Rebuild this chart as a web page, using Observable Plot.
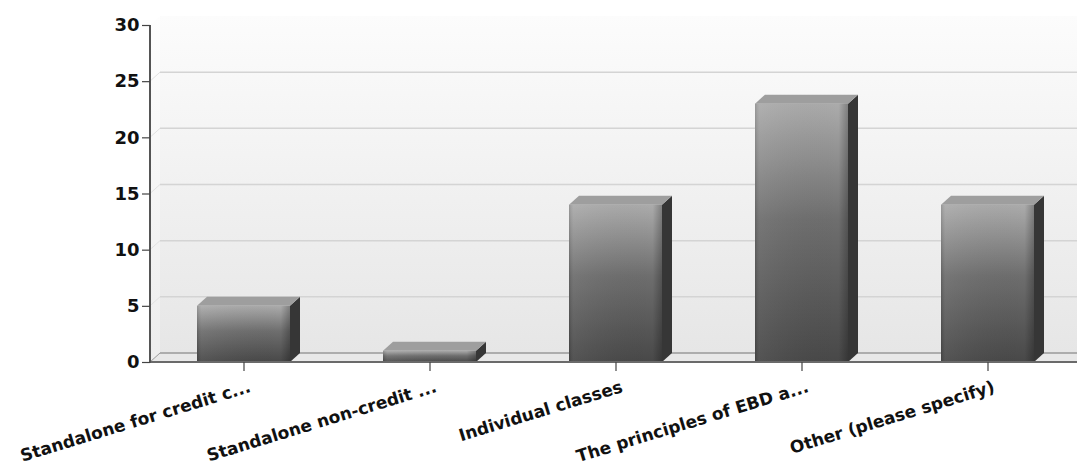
<!DOCTYPE html>
<html>
<head>
<meta charset="utf-8">
<script src="https://cdn.jsdelivr.net/npm/d3@7"></script>
<script src="https://cdn.jsdelivr.net/npm/@observablehq/plot@0.6"></script>
<style>
  html, body { margin: 0; padding: 0; background: #fff; }
  #chart svg { display: block; }
</style>
</head>
<body>
<div id="chart"></div>
<script>
// ---- data ----
const categories = [
  "Standalone for credit c...",
  "Standalone non-credit ...",
  "Individual classes",
  "The principles of EBD a...",
  "Other (please specify)"
];
const values = [5, 1, 14, 23, 14];
const yTicks = [0, 5, 10, 15, 20, 25, 30];

const data = categories.map((c, i) => ({category: c, value: values[i]}));

// ---- style constants ----
const DX = 10, DY = -9;   // 3D depth offset (pixels)
const FONT = "'DejaVu Sans', 'Liberation Sans', Arial, sans-serif";

// walls, floor, gridlines
function walls(index, scales, values, dims) {
  const {width, marginLeft} = dims;
  const y = scales.y;
  const x0 = marginLeft, y0 = y(0), yTop = y(yTicks[yTicks.length - 1]);
  const g = d3.create("svg:g");
  const defs = g.append("defs");
  const wg = defs.append("linearGradient").attr("id", "wallGrad")
    .attr("x1", 0).attr("y1", 0).attr("x2", 0).attr("y2", 1);
  wg.append("stop").attr("offset", "0%").attr("stop-color", "#fcfcfc");
  wg.append("stop").attr("offset", "100%").attr("stop-color", "#e6e6e6");
  const sg = defs.append("linearGradient").attr("id", "sideGrad")
    .attr("x1", 0).attr("y1", 0).attr("x2", 0).attr("y2", 1);
  sg.append("stop").attr("offset", "0%").attr("stop-color", "#fefefe");
  sg.append("stop").attr("offset", "100%").attr("stop-color", "#ededed");

  g.append("rect")
    .attr("x", x0 + DX).attr("y", yTop + DY)
    .attr("width", width - x0 - DX).attr("height", y0 - yTop)
    .attr("fill", "url(#wallGrad)");
  g.append("path")
    .attr("d", `M${x0},${yTop}L${x0 + DX},${yTop + DY}L${x0 + DX},${y0 + DY}L${x0},${y0}Z`)
    .attr("fill", "url(#sideGrad)");
  for (const t of yTicks) {
    if (t === 0 || t === yTicks[yTicks.length - 1]) continue;
    const yy = y(t);
    g.append("line")
      .attr("x1", x0 + DX).attr("x2", width)
      .attr("y1", yy + DY).attr("y2", yy + DY)
      .attr("stroke", "#d4d4d4").attr("stroke-width", 1.5);
    g.append("line")
      .attr("x1", x0).attr("x2", x0 + DX)
      .attr("y1", yy).attr("y2", yy + DY)
      .attr("stroke", "#e2e2e2").attr("stroke-width", 1);
  }
  g.append("path")
    .attr("d", `M${x0},${y0}L${x0 + DX},${y0 + DY}L${width},${y0 + DY}L${width},${y0}Z`)
    .attr("fill", "#e8e8e8");
  g.append("line")
    .attr("x1", x0 + DX).attr("x2", width)
    .attr("y1", y0 + DY).attr("y2", y0 + DY)
    .attr("stroke", "#9a9a9a").attr("stroke-width", 1.5);
  g.append("line")
    .attr("x1", x0).attr("x2", x0 + DX)
    .attr("y1", y0).attr("y2", y0 + DY)
    .attr("stroke", "#9a9a9a").attr("stroke-width", 1);
  return g.node();
}

function frontLines(index, scales, values, dims) {
  const {width, marginLeft} = dims;
  const y = scales.y;
  const g = d3.create("svg:g");
  g.append("line")
    .attr("x1", marginLeft).attr("x2", width)
    .attr("y1", y(0)).attr("y2", y(0))
    .attr("stroke", "#6a6a6a").attr("stroke-width", 2);
  g.append("line")
    .attr("x1", marginLeft).attr("x2", marginLeft)
    .attr("y1", y(yTicks[yTicks.length - 1])).attr("y2", y(0) + 1)
    .attr("stroke", "#555").attr("stroke-width", 2);
  return g.node();
}

function bar3d(index, scales, values, dims, context, next) {
  const g = next(index, scales, values, dims, context);
  const sel = d3.select(g);
  const defs = sel.insert("defs", ":first-child");
  const fg = defs.append("linearGradient").attr("id", "frontGrad")
    .attr("x1", 0).attr("y1", 0).attr("x2", 0).attr("y2", 1);
  fg.append("stop").attr("offset", "0%").attr("stop-color", "#ababab");
  fg.append("stop").attr("offset", "45%").attr("stop-color", "#6e6e6e");
  fg.append("stop").attr("offset", "100%").attr("stop-color", "#484848");
  const hg = defs.append("linearGradient").attr("id", "bevelGrad")
    .attr("x1", 0).attr("y1", 0).attr("x2", 1).attr("y2", 0);
  hg.append("stop").attr("offset", "0%").attr("stop-color", "#000").attr("stop-opacity", 0.12);
  hg.append("stop").attr("offset", "5%").attr("stop-color", "#fff").attr("stop-opacity", 0.06);
  hg.append("stop").attr("offset", "90%").attr("stop-color", "#000").attr("stop-opacity", 0.0);
  hg.append("stop").attr("offset", "100%").attr("stop-color", "#000").attr("stop-opacity", 0.25);

  sel.selectAll("rect").each(function () {
    const r = d3.select(this);
    const x = +r.attr("x"), y = +r.attr("y"), w = +r.attr("width"), h = +r.attr("height");
    const parent = d3.select(this.parentNode);
    parent.append("path")
      .attr("d", `M${x + w},${y}L${x + w + DX},${y + DY}L${x + w + DX},${y + h + DY}L${x + w},${y + h}Z`)
      .attr("fill", "#363636");
    parent.append("path")
      .attr("d", `M${x},${y}L${x + DX},${y + DY}L${x + w + DX},${y + DY}L${x + w},${y}Z`)
      .attr("fill", "#9e9e9e");
    parent.append("rect")
      .attr("x", x).attr("y", y).attr("width", w).attr("height", h)
      .attr("fill", "url(#bevelGrad)");
  });
  return g;
}

const chart = Plot.plot({
  width: 1077,
  height: 475,
  marginLeft: 150,
  marginRight: 0,
  marginTop: 25,
  marginBottom: 113,
  style: {fontFamily: FONT, background: "#fff", color: "#111"},
  x: {domain: categories, range: [150, 1081], paddingInner: 0.5, paddingOuter: 0.25, axis: null},
  y: {domain: [0, 30], range: [362, 25], axis: null},
  marks: [
    walls,
    Plot.barY(data, {x: "category", y: "value", fill: "url(#frontGrad)", render: bar3d}),
    frontLines,
    Plot.axisY({ticks: yTicks, tickSize: 8, tickPadding: 3, fontSize: 18, fontWeight: "bold",
      stroke: "#444", fill: "#111", strokeWidth: 1.2, label: null}),
    Plot.axisX({tickSize: 9, tickFormat: () => "", stroke: "#444", strokeWidth: 1.2, label: null}),
    Plot.text(categories, {x: d => d, text: d => d, frameAnchor: "bottom", dx: 6, dy: 24,
      rotate: -17, textAnchor: "end", lineAnchor: "middle", fontSize: 17, fontWeight: "bold",
      fill: "#111"})
  ]
});

document.getElementById("chart").appendChild(chart);
</script>
</body>
</html>
